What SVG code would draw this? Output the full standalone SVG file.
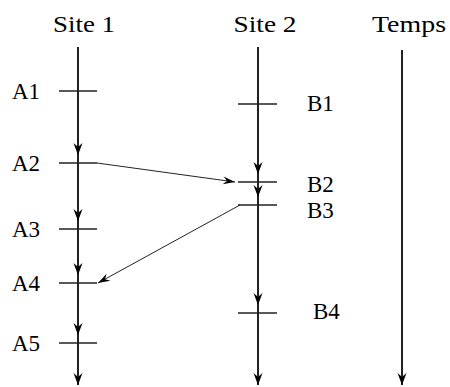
<svg xmlns="http://www.w3.org/2000/svg" width="450" height="387" viewBox="0 0 450 387">
  <style>
    .lbl { font-family: "Liberation Serif", "Times New Roman", serif; font-size: 23px; fill: #000; }
    .axis { stroke: #222; stroke-width: 2; fill: none; marker-mid: url(#ah); marker-end: url(#ah); }
    .tick { stroke: #222; stroke-width: 1.6; fill: none; }
    .msg { stroke: #222; stroke-width: 1; fill: none; marker-end: url(#ahm); }
  </style>
  <defs>
    <marker id="ah" markerUnits="userSpaceOnUse" viewBox="-13 -6 14 12" refX="0" refY="0" markerWidth="14" markerHeight="12" orient="auto">
      <path d="M0,0 L-12,-4.5 L-8,0 L-12,4.5 Z" fill="#000"/>
    </marker>
    <marker id="ahm" markerUnits="userSpaceOnUse" viewBox="-13 -6 14 12" refX="0" refY="0" markerWidth="14" markerHeight="12" orient="auto">
      <path d="M0,0 L-12,-4 L-8,0 L-12,4 Z" fill="#000"/>
    </marker>
  </defs>

  <g id="site1">
    <text class="lbl" x="84" y="32" text-anchor="middle" textLength="62" lengthAdjust="spacingAndGlyphs">Site 1</text>
  </g>
  <g id="site2">
    <text class="lbl" x="265" y="32" text-anchor="middle" textLength="63" lengthAdjust="spacingAndGlyphs">Site 2</text>
  </g>
  <g id="temps">
    <text class="lbl" x="409" y="32" text-anchor="middle" textLength="74" lengthAdjust="spacingAndGlyphs">Temps</text>
  </g>

  <g id="connectors">
    <path class="axis" d="M78,47 L78,155 L78,221 L78,275 L78,335 L78,385"/>
    <path class="axis" d="M258,47 L258,174 L258,197 L258,305 L258,385"/>
    <path class="axis" d="M402,50 L402,385"/>
    <path class="msg" d="M97,163 L235,182"/>
    <path class="msg" d="M240,205 L98,283"/>
  </g>

  <g id="A1"><line class="tick" x1="59" y1="91" x2="97" y2="91"/><text class="lbl" x="12" y="99">A1</text></g>
  <g id="A2"><line class="tick" x1="59" y1="163" x2="97" y2="163"/><text class="lbl" x="12" y="171">A2</text></g>
  <g id="A3"><line class="tick" x1="59" y1="229" x2="97" y2="229"/><text class="lbl" x="12" y="237">A3</text></g>
  <g id="A4"><line class="tick" x1="59" y1="283" x2="97" y2="283"/><text class="lbl" x="12" y="291">A4</text></g>
  <g id="A5"><line class="tick" x1="59" y1="343" x2="97" y2="343"/><text class="lbl" x="12" y="351">A5</text></g>

  <g id="B1"><line class="tick" x1="238" y1="104" x2="277" y2="104"/><text class="lbl" x="307" y="111">B1</text></g>
  <g id="B2"><line class="tick" x1="238" y1="182" x2="277" y2="182"/><text class="lbl" x="307" y="192">B2</text></g>
  <g id="B3"><line class="tick" x1="238" y1="205" x2="277" y2="205"/><text class="lbl" x="307" y="218">B3</text></g>
  <g id="B4"><line class="tick" x1="238" y1="313" x2="277" y2="313"/><text class="lbl" x="313" y="319">B4</text></g>
</svg>
